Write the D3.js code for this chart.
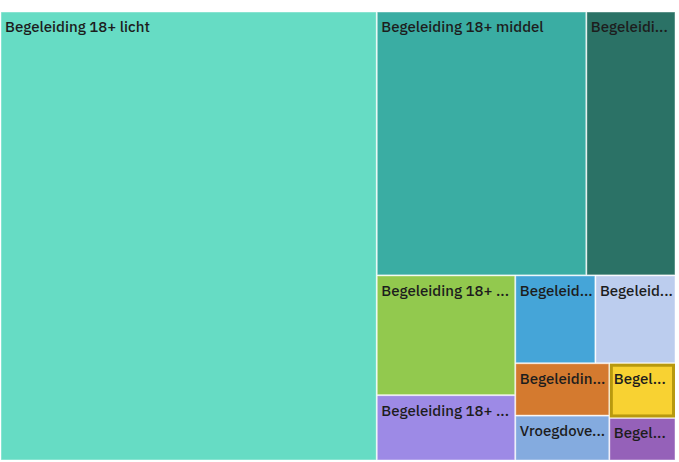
<!DOCTYPE html>
<html>
<head>
<meta charset="utf-8">
<script src="https://cdn.jsdelivr.net/npm/d3@7"></script>
<style>
  body { margin: 0; background: #fff; }
  svg { display: block; }
  .label { font-family: "IBM Plex Sans", "Noto Sans", sans-serif; font-size: 15px; font-weight: 500; fill: #1d1d1d; }
</style>
</head>
<body>
<div id="visualization"></div>
<script>
const categories = [
  'Begeleiding 18+ licht',
  'Begeleiding 18+ middel',
  'Begeleiding 18+ zwaar',
  'Begeleiding 18+ groep',
  'Begeleiding 18+ intensief',
  'Begeleiding 18- licht',
  'Begeleiding 18- middel',
  'Begeleiding 18- zwaar',
  'Vroegdovenbegeleiding',
  'Begeleiding 18- groep',
  'Begeleiding 18- intensief'
];
const values = [1680, 550, 234, 165, 90, 70, 70, 49, 42, 36, 28];
const colors = ['#66dcc4', '#3aada3', '#2b7266', '#92c94e', '#9d8ae6', '#45a5d8', '#bccdee', '#d47a2f', '#84abdf', '#f8d232', '#9561b9'];
const highlighted = 'Begeleiding 18- groep';

const width = 679, height = 462;
const margin = { top: 12, right: 4, bottom: 2, left: 1 };

const svg = d3.select('#visualization')
  .append('svg')
  .attr('width', width)
  .attr('height', height);

const g = svg.append('g')
  .attr('transform', `translate(${margin.left},${margin.top})`);

const root = d3.hierarchy({
  children: categories.map((name, i) => ({ name, value: values[i], color: colors[i] }))
})
  .sum(d => d.value)
  .sort((a, b) => b.value - a.value);

d3.treemap()
  .size([width - margin.left - margin.right, height - margin.top - margin.bottom])
  .paddingInner(1)
  .round(false)(root);

const cells = g.selectAll('.cell')
  .data(root.leaves())
  .join('g')
  .attr('class', 'cell')
  .attr('transform', d => `translate(${d.x0},${d.y0})`);

cells.append('rect')
  .attr('width', d => d.x1 - d.x0)
  .attr('height', d => d.y1 - d.y0)
  .attr('fill', d => d.data.color)
  .attr('stroke', 'rgba(255,255,255,0.45)')
  .attr('stroke-width', 1);

// hovered cell outline
cells.filter(d => d.data.name === highlighted)
  .append('rect')
  .attr('x', 1.5)
  .attr('y', 1.5)
  .attr('width', d => d.x1 - d.x0 - 3)
  .attr('height', d => d.y1 - d.y0 - 3)
  .attr('fill', 'none')
  .attr('stroke', '#b8990f')
  .attr('stroke-width', 3);

const labels = cells.append('text')
  .attr('class', 'label')
  .attr('x', 4)
  .attr('y', 20)
  .text(d => d.data.name);

// Truncate labels that do not fit
labels.each(function(d) {
  const el = d3.select(this);
  const maxW = d.x1 - d.x0 - 6;
  let txt = d.data.name;
  if (this.getComputedTextLength() <= maxW) return;
  while (txt.length > 1) {
    txt = txt.slice(0, -1);
    el.text(txt + '...');
    if (this.getComputedTextLength() <= maxW) break;
  }
});
</script>
</body>
</html>
